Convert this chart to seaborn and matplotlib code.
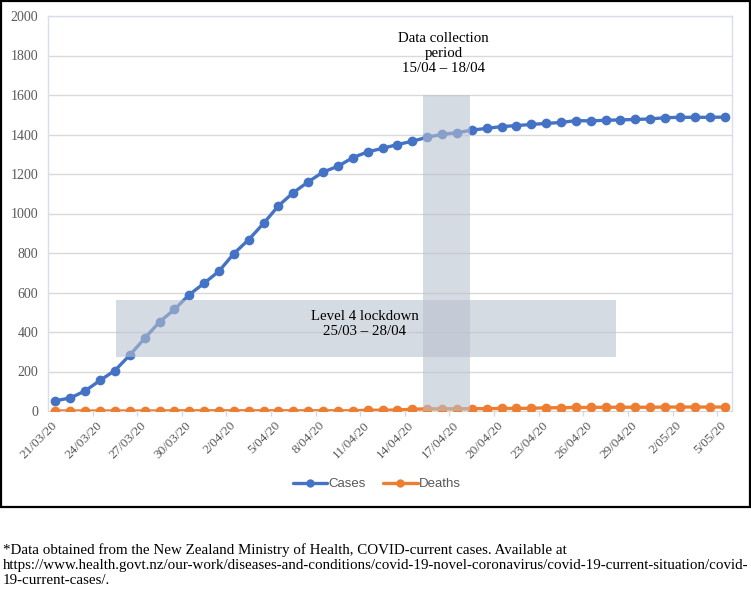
import numpy as np
import pandas as pd
import matplotlib
matplotlib.use("Agg")
from matplotlib import pyplot as plt
from matplotlib.patches import Rectangle
from matplotlib.lines import Line2D
import seaborn as sns

# daily dates 21/03/20 - 5/05/20
dates = pd.date_range("2020-03-21", "2020-05-05", freq="D")
date_labels = [f"{d.day}/{d.month:02d}/20" for d in dates]

cases = [52, 66, 102, 155, 205, 283, 368, 451, 514, 589, 647, 708, 797, 868, 950,
         1039, 1106, 1160, 1210, 1239, 1283, 1312, 1330, 1349, 1366, 1386, 1401,
         1409, 1422, 1431, 1440, 1445, 1451, 1456, 1461, 1470, 1469, 1472, 1474,
         1476, 1479, 1485, 1487, 1487, 1487, 1488]
deaths = [0, 0, 0, 0, 0, 0, 0, 0, 1, 1, 1, 1, 1, 1, 1, 1, 1, 1, 1, 1, 1, 4, 4, 5,
          9, 11, 11, 11, 12, 12, 13, 13, 14, 16, 17, 18, 18, 19, 19, 19, 19, 20,
          20, 20, 20, 20]

series_names = ["Cases", "Deaths"]
colors = ["#4472C4", "#ED7D31"]

df = pd.DataFrame({
    "idx": list(range(len(dates))) * 2,
    "value": cases + deaths,
    "series": ["Cases"] * len(cases) + ["Deaths"] * len(deaths),
})

sns.set_style("white")
plt.rcParams["font.family"] = ["Liberation Serif", "DejaVu Serif"]

fig = plt.figure(figsize=(7.51, 5.90), dpi=100)
ax = fig.add_axes([48 / 751, 1 - 411 / 590, (732 - 48) / 751, (411 - 16) / 590])

sns.lineplot(data=df, x="idx", y="value", hue="series", palette=colors,
             marker="o", markersize=7, markeredgewidth=0, linewidth=2.4,
             legend=False, ax=ax, zorder=3)

# shaded periods
shade = "#B8C1CE"
ax.add_patch(Rectangle((24.75, 0), 3.15, 1600, color=shade, alpha=0.58,
                       lw=0, zorder=4))
ax.add_patch(Rectangle((4.05, 274), 33.65, 286, color=shade, alpha=0.58,
                       lw=0, zorder=4))
ax.text(20.8, 440, "Level 4 lockdown\n25/03 \u2013 28/04", ha="center",
        va="center", fontsize=10.75, color="black", zorder=5, linespacing=1.2)
ax.text(26.1, 1808, "Data collection\nperiod\n15/04 \u2013 18/04", ha="center",
        va="center", fontsize=10.75, color="black", zorder=5, linespacing=1.2)

ax.set_xlim(-0.5, len(dates) - 0.5)
ax.set_ylim(0, 2000)
ax.set_yticks(range(0, 2001, 200))
ax.set_xticks(range(0, len(dates), 3))
ax.set_xticks(np.arange(2.5, len(dates), 3), minor=True)
ax.set_xticklabels([date_labels[i] for i in range(0, len(dates), 3)],
                   rotation=45, ha="right", va="center", rotation_mode="anchor",
                   fontsize=9.5, color="#595959")
ax.tick_params(axis="y", labelsize=10, labelcolor="#595959", length=0, pad=7)
ax.tick_params(axis="x", which="major", length=0, pad=9)
ax.tick_params(axis="x", which="minor", length=3.5, width=1, color="#D9D9D9",
               direction="out", bottom=True)
ax.set_xlabel("")
ax.set_ylabel("")
ax.grid(axis="y", color="#D9D9D9", linewidth=1)
for s in ["left", "top", "right"]:
    ax.spines[s].set_color("#D9DEEA")
    ax.spines[s].set_linewidth(1)
ax.spines["bottom"].set_color("#D9D9D9")

handles = [Line2D([], [], color=c, marker="o", markersize=6, markeredgewidth=0,
                  linewidth=2.4) for c in colors]
fig.legend(handles, series_names, loc="center", bbox_to_anchor=(0.502, 1 - 484 / 590),
           ncol=2, frameon=False, handlelength=2.6, columnspacing=1.3,
           handletextpad=0.1,
           prop={"family": ["Liberation Sans Narrow", "Liberation Sans"], "size": 9.5},
           labelcolor="#595959")

# outer chart frame
fig.patches.append(Rectangle((1 / 751, 1 - 507 / 590), 749 / 751, 506 / 590,
                             transform=fig.transFigure, fill=False,
                             edgecolor="black", linewidth=1.6))

foot = ("*Data obtained from the New Zealand Ministry of Health, COVID-current cases. Available at\n"
        "https://www.health.govt.nz/our-work/diseases-and-conditions/covid-19-novel-coronavirus/covid-19-current-situation/covid-\n"
        "19-current-cases/.")
fig.text(3 / 751, 1 - 543 / 590, foot, ha="left", va="top", fontsize=10.85,
         color="black", linespacing=1.2)

fig.savefig("out.png", dpi=100)
